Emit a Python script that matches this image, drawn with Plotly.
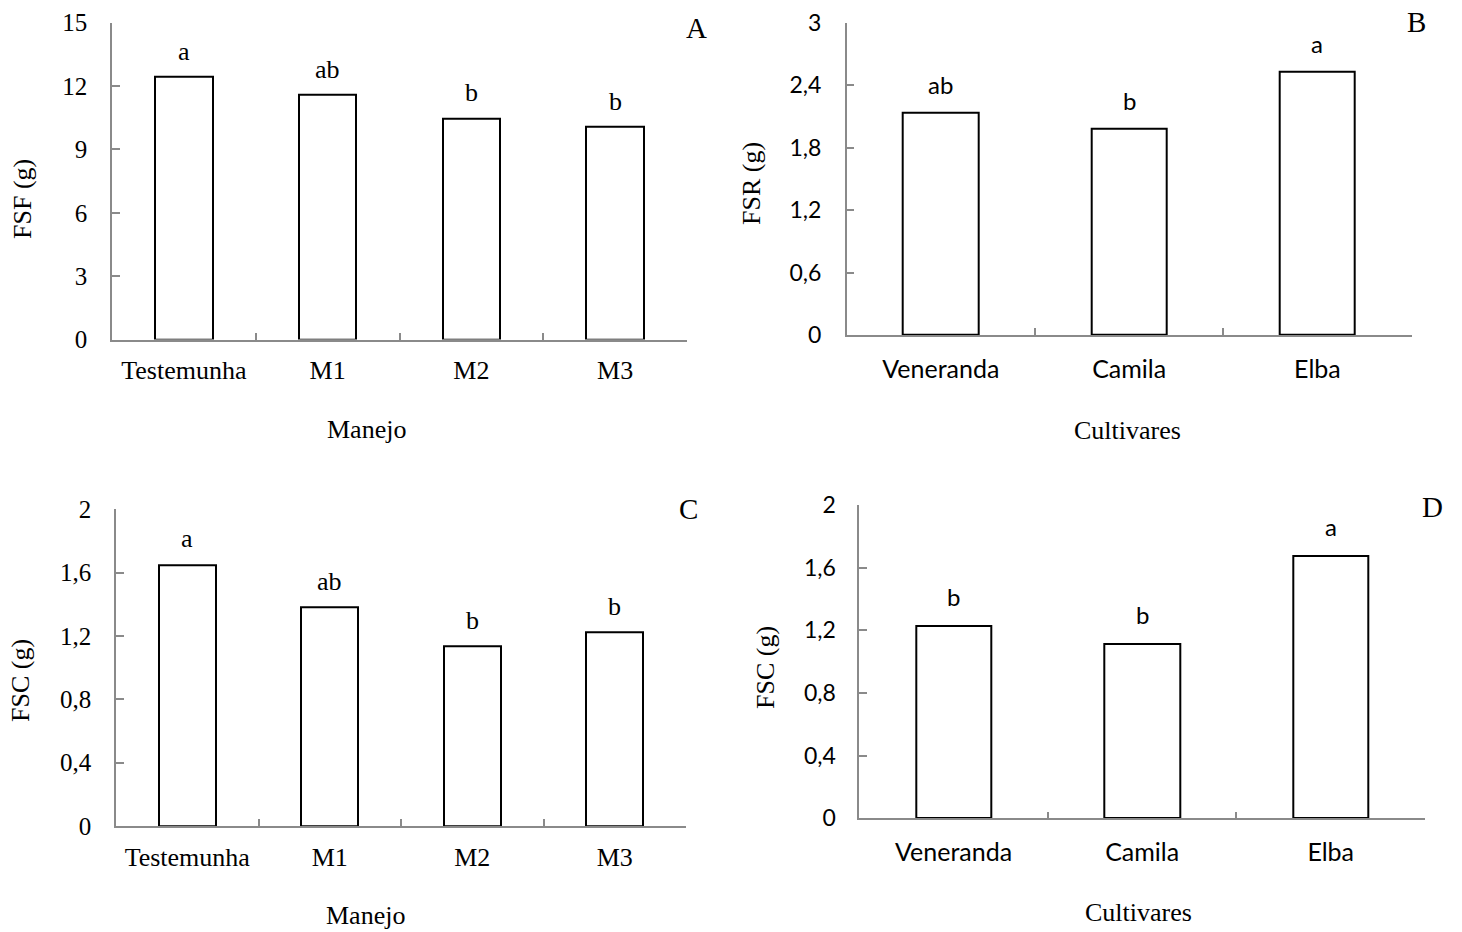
import plotly.graph_objects as go

# Categories
manejo = ["Testemunha", "M1", "M2", "M3"]
cultivares = ["Veneranda", "Camila", "Elba"]

# Fresh mass (g) and mean-separation letters
fsf_manejo = [12.43, 11.59, 10.47, 10.08]
fsf_letras = ["a", "ab", "b", "b"]

fsr_cultivar = [2.135, 1.98, 2.526]
fsr_letras = ["ab", "b", "a"]

fsc_manejo = [1.648, 1.379, 1.132, 1.221]
fsc_manejo_letras = ["a", "ab", "b", "b"]

fsc_cultivar = [1.229, 1.111, 1.675]
fsc_cultivar_letras = ["b", "b", "a"]

W, H = 1462, 932
SERIF = "Times New Roman, Liberation Serif, serif"
SANS = "Lato, Calibri, Carlito, sans-serif"
AXIS_GRAY = "#8a8a8a"


def px_x(v):
    return v / W


def px_y(v):
    return 1 - v / H


fig = go.Figure()
annotations = []

panels = [
    dict(cats=manejo, vals=fsf_manejo, letters=fsf_letras, ymax=15, dtick=3,
         xdom=(112, 687), ydom=(22.7, 339.5), tickfont=SERIF, tickfs=25,
         catfont=SERIF, catfs=26, letfont=SERIF, letfs=26, letshift=9,
         ytitle="FSF (g)", ytitle_xy=(22, 199), xtitle="Manejo", xtitle_xy=(367, 429),
         tag="A", tag_xy=(696, 28), standoff=18, catstandoff=7),
    dict(cats=cultivares, vals=fsr_cultivar, letters=fsr_letras, ymax=3, dtick=0.6,
         xdom=(846.7, 1411.6), ydom=(22.7, 335), tickfont=SANS, tickfs=23,
         catfont=SANS, catfs=25, letfont=SANS, letfs=24, letshift=12,
         ytitle="FSR (g)", ytitle_xy=(751, 184), xtitle="Cultivares", xtitle_xy=(1127, 430),
         tag="B", tag_xy=(1416, 22), standoff=19, catstandoff=11),
    dict(cats=manejo, vals=fsc_manejo, letters=fsc_manejo_letras, ymax=2, dtick=0.4,
         xdom=(116, 686), ydom=(509.3, 826), tickfont=SERIF, tickfs=25,
         catfont=SERIF, catfs=26, letfont=SERIF, letfs=26, letshift=10,
         ytitle="FSC (g)", ytitle_xy=(20, 681), xtitle="Manejo", xtitle_xy=(365, 915),
         tag="C", tag_xy=(688, 509), standoff=18, catstandoff=7),
    dict(cats=cultivares, vals=fsc_cultivar, letters=fsc_cultivar_letras, ymax=2, dtick=0.4,
         xdom=(859.3, 1425), ydom=(505, 818.3), tickfont=SANS, tickfs=23,
         catfont=SANS, catfs=25, letfont=SANS, letfs=24, letshift=13,
         ytitle="FSC (g)", ytitle_xy=(765, 668), xtitle="Cultivares", xtitle_xy=(1138, 912),
         tag="D", tag_xy=(1432, 507), standoff=17, catstandoff=11),
]

for i, p in enumerate(panels, start=1):
    xa = "x" if i == 1 else f"x{i}"
    ya = "y" if i == 1 else f"y{i}"
    xkey = "xaxis" if i == 1 else f"xaxis{i}"
    ykey = "yaxis" if i == 1 else f"yaxis{i}"

    fig.add_trace(go.Bar(
        x=p["cats"], y=p["vals"], xaxis=xa, yaxis=ya, width=0.4,
        marker=dict(color="white", line=dict(color="black", width=2)),
        showlegend=False, hoverinfo="x+y",
    ))

    fig.update_layout({
        xkey: dict(
            domain=[px_x(p["xdom"][0]), px_x(p["xdom"][1])], anchor=ya,
            type="category", range=[-0.5, len(p["cats"]) - 0.5],
            showline=True, linecolor=AXIS_GRAY, linewidth=1.5,
            ticks="inside", tickson="boundaries", ticklen=7,
            tickcolor=AXIS_GRAY, tickwidth=1.5,
            showgrid=False, zeroline=False, automargin=False,
            tickfont=dict(family=p["catfont"], size=p["catfs"], color="black"),
            ticklabelstandoff=p["catstandoff"],
        ),
        ykey: dict(
            domain=[px_y(p["ydom"][1]), px_y(p["ydom"][0])], anchor=xa,
            range=[0, p["ymax"]], tickmode="linear", tick0=0, dtick=p["dtick"],
            showline=True, linecolor=AXIS_GRAY, linewidth=1.5,
            ticks="inside", ticklen=8, tickcolor=AXIS_GRAY, tickwidth=1.5,
            showgrid=False, zeroline=False, automargin=False,
            tickfont=dict(family=p["tickfont"], size=p["tickfs"], color="black"),
            ticklabelstandoff=p["standoff"],
        ),
    })

    # letters above each bar
    for c, v, t in zip(p["cats"], p["vals"], p["letters"]):
        annotations.append(dict(
            x=c, y=v, xref=xa, yref=ya, text=t, showarrow=False,
            yanchor="bottom", yshift=p["letshift"],
            font=dict(family=p["letfont"], size=p["letfs"], color="black"),
        ))

    # axis titles
    annotations.append(dict(
        x=px_x(p["ytitle_xy"][0]), y=px_y(p["ytitle_xy"][1]), xref="paper", yref="paper",
        text=p["ytitle"], textangle=-90, showarrow=False,
        xanchor="center", yanchor="middle",
        font=dict(family=SERIF, size=26, color="black"),
    ))
    annotations.append(dict(
        x=px_x(p["xtitle_xy"][0]), y=px_y(p["xtitle_xy"][1]), xref="paper", yref="paper",
        text=p["xtitle"], showarrow=False, xanchor="center", yanchor="middle",
        font=dict(family=SERIF, size=26, color="black"),
    ))
    # panel tag
    annotations.append(dict(
        x=px_x(p["tag_xy"][0]), y=px_y(p["tag_xy"][1]), xref="paper", yref="paper",
        text=p["tag"], showarrow=False, xanchor="center", yanchor="middle",
        font=dict(family=SERIF, size=29, color="black"),
    ))

fig.update_layout(
    width=W, height=H, margin=dict(l=0, r=0, t=0, b=0),
    paper_bgcolor="white", plot_bgcolor="white",
    separators=",.", annotations=annotations, bargap=0,
)

fig.write_html("out.html")
